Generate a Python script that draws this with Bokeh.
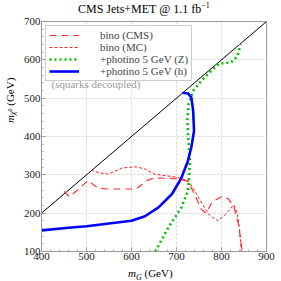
import math
from bokeh.plotting import figure
from bokeh.models import (Range1d, LinearAxis, Legend, LegendItem, Label,
                          FixedTicker, Grid, Div)
from bokeh.layouts import column, row
from bokeh.embed import file_html
from bokeh.resources import INLINE

# ---- data ----
diag_x = [400, 900]
diag_y = [200, 700]

cms_x = [450, 462, 485, 503, 525, 545, 610, 635, 650, 700, 725, 740, 755, 765,
         780, 800, 815, 828, 838, 845, 848]
cms_y = [257, 243, 265, 285, 266, 263, 263, 285, 292, 290, 283, 250, 210, 200,
         230, 243, 238, 215, 170, 110, 100]

mc_x = [510, 530, 548, 580, 610, 630, 650, 700, 726, 740, 750, 773, 792, 810,
        827, 835, 840, 844]
mc_y = [312, 305, 302, 318, 321, 315, 302, 294, 285, 260, 238, 195, 180, 198,
        222, 200, 160, 100]

z_x = [653, 682, 711, 726, 730, 726, 724, 727, 737, 755, 777, 795, 821, 836, 842]
z_y = [100, 163, 215, 260, 337, 400, 441, 485, 519, 545, 571, 590, 593, 610, 641]

h_x = [400, 460, 500, 550, 600, 630, 660, 690, 710, 725, 733, 739, 737, 733,
       726, 713]
h_y = [155, 162, 166, 173, 180, 192, 215, 250, 290, 335, 372, 415, 467, 502,
       512, 514]

ticks_x = [400, 500, 600, 700, 800, 900]
ticks_y = [100, 200, 300, 400, 500, 600, 700]

legend_labels = ["bino (CMS)", "bino (MC)", "+photino 5 GeV (Z)", "+photino 5 GeV (h)"]

SERIF = "Liberation Serif"
CSS_FONT = "font-family:'Liberation Serif',serif;"

# layout: title div (16) / [ylabel div (20) | figure (261 x 249)] / xlabel div (16)
p = figure(width=261, height=249, output_backend="svg", toolbar_location=None,
           x_range=Range1d(400, 900), y_range=Range1d(100, 700),
           min_border_left=18, min_border_right=15, min_border_top=5,
           min_border_bottom=14, x_axis_type=None, y_axis_type=None)
p.outline_line_color = "#999999"
p.background_fill_color = "white"
p.border_fill_color = "white"

xt = FixedTicker(ticks=ticks_x, minor_ticks=list(range(400, 901, 20)))
yt = FixedTicker(ticks=ticks_y, minor_ticks=list(range(100, 701, 20)))

for loc, tk in [("below", xt), ("left", yt)]:
    ax = LinearAxis(ticker=tk)
    ax.axis_line_color = "#999999"
    ax.major_tick_in = 4
    ax.major_tick_out = 0
    ax.minor_tick_in = 2
    ax.minor_tick_out = 0
    ax.major_tick_line_color = "#999999"
    ax.minor_tick_line_color = "#aaaaaa"
    ax.major_label_text_font = SERIF
    ax.major_label_text_font_size = "11px"
    ax.major_label_text_color = "#222222"
    ax.major_label_standoff = 1
    p.add_layout(ax, loc)

gx = Grid(dimension=0, ticker=xt, grid_line_color="#d0d0d0", grid_line_dash="2 2")
gy = Grid(dimension=1, ticker=yt, grid_line_color="#d0d0d0", grid_line_dash="2 2")
p.add_layout(gx)
p.add_layout(gy)

p.line(diag_x, diag_y, line_color="black", line_width=1)

r_cms = p.line(cms_x, cms_y, line_color="#ff3030", line_width=1.2, line_dash="7 5")
r_mc = p.line(mc_x, mc_y, line_color="#ff2020", line_width=1.0, line_dash="3 2")
r_z = p.line(z_x, z_y, line_color="#00c000", line_width=2.6, line_dash="2 3")
r_h = p.line(h_x, h_y, line_color="#0000ff", line_width=2.6)

legend = Legend(items=[LegendItem(label=legend_labels[0], renderers=[r_cms]),
                       LegendItem(label=legend_labels[1], renderers=[r_mc]),
                       LegendItem(label=legend_labels[2], renderers=[r_z]),
                       LegendItem(label=legend_labels[3], renderers=[r_h])],
                location="top_left", margin=4, padding=3, spacing=-3,
                glyph_width=30, glyph_height=8, label_height=8,
                label_standoff=21, label_text_font=SERIF,
                label_text_font_size="11px",
                border_line_color="#999999", background_fill_alpha=1.0)
p.add_layout(legend)

# annotation inside the frame (screen units: from frame left / frame bottom)
p.add_layout(Label(x=10, y=168, x_units="screen", y_units="screen",
                   text="(squarks decoupled)", text_font=SERIF,
                   text_font_size="11px", text_color="#999999",
                   text_align="left", text_baseline="alphabetic"))

title_div = Div(
    text=("<div style=\"" + CSS_FONT + "font-size:12px;line-height:18px;"
          "padding-left:78px;white-space:nowrap;color:#000;\">"
          "CMS Jets+MET @ 1.1 fb<sup style=\"font-size:8px;line-height:0;\">"
          "\u22121</sup></div>"),
    width=281, height=16, margin=0)

ylab_div = Div(
    text=("<div style=\"" + CSS_FONT + "font-size:11px;line-height:20px;"
          "writing-mode:vertical-rl;transform:rotate(180deg);"
          "box-sizing:border-box;height:249px;width:20px;padding-top:142px;"
          "white-space:nowrap;color:#000;\">"
          "<i>m</i><sub style=\"font-size:8px;line-height:0;\"><i>\u03c7</i>"
          "<sup style=\"font-size:6px;line-height:0;\">0</sup></sub> (GeV)</div>"),
    width=20, height=249, margin=0)

xlab_div = Div(
    text=("<div style=\"" + CSS_FONT + "font-size:11px;line-height:8px;"
          "padding-top:4px;padding-left:128px;white-space:nowrap;color:#000;\">"
          "<i>m</i><sub style=\"font-size:8px;line-height:0;\"><i>G</i></sub>"
          " (GeV)</div>"),
    width=281, height=16, margin=0)

layout = column(title_div, row(ylab_div, p, spacing=0), xlab_div, spacing=0)

open("out.html", "w").write(file_html(layout, INLINE))
